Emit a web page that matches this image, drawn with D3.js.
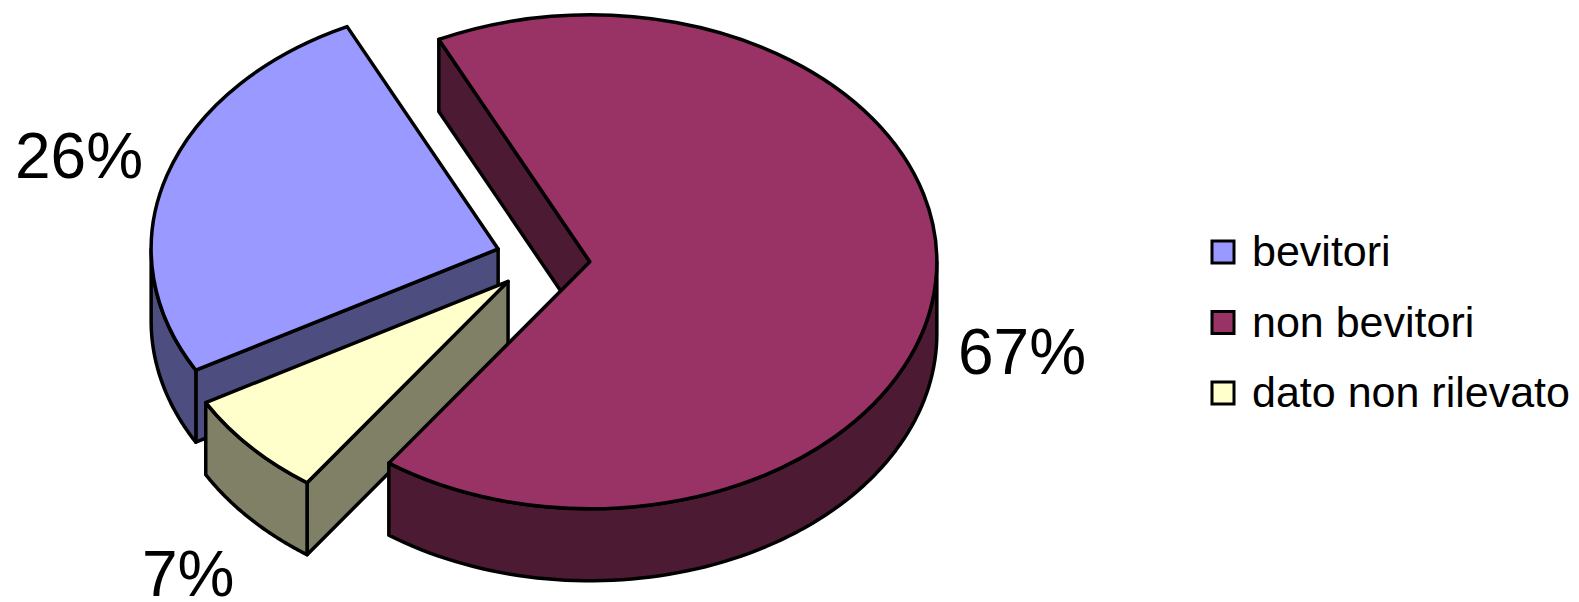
<!DOCTYPE html>
<html>
<head>
<meta charset="utf-8">
<script src="https://cdn.jsdelivr.net/npm/d3@7"></script>
<style>
  html, body { margin: 0; padding: 0; background: #fff; }
  #chart { width: 1579px; height: 602px; }
  text { font-family: "Liberation Sans", Arial, sans-serif; fill: #000; }
</style>
</head>
<body>
<div id="chart"></div>
<script>
// 3D exploded pie: drinkers share
const categories = ['bevitori', 'non bevitori', 'dato non rilevato'];
const values = [26, 67, 7];
const valueLabels = ['26%', '67%', '7%'];
const topColors = ['#9999FF', '#993366', '#FFFFCC'];
const sideColors = ['#4D4D80', '#4D1A33', '#808066'];

function drawPie() {
  const W = 1579, H = 602;
  const cx = 543, cy = 259;        // centre of the un-exploded pie
  const R = 347, k = 247 / 347;    // ellipse radius and tilt ratio
  const depth = 72, explode = 47;
  const startDeg = 240.6;
  const rad = (d) => (d * Math.PI) / 180;

  const svg = d3
    .select('#chart')
    .append('svg')
    .attr('width', W)
    .attr('height', H);

  const pie = d3
    .pie()
    .sort(null)
    .value((d) => d)
    .startAngle(rad(startDeg))
    .endAngle(rad(startDeg + 360));
  const arcs = pie(values);

  // plan coordinates (unit circle) -> screen offsets
  const sx = d3.scaleLinear().domain([-1, 1]).range([-R, R]);
  const sy = d3.scaleLinear().domain([-1, 1]).range([-R * k, R * k]);

  const apex = (a) => {
    const m = (a.startAngle + a.endAngle) / 2;
    return [cx + explode * Math.sin(m), cy - explode * Math.cos(m) * k];
  };
  const rim = (p, t, dz = 0) => [p[0] + sx(Math.sin(t)), p[1] + sy(-Math.cos(t)) + dz];
  const line = d3.line();
  const closed = (pts) => line(pts) + 'Z';

  const style = (sel) =>
    sel
      .attr('stroke', '#000')
      .attr('stroke-width', 3.5)
      .attr('stroke-linejoin', 'round');

  const radialLayer = svg.append('g');
  const outerLayer = svg.append('g');
  const topLayer = svg.append('g');

  arcs.forEach((a, i) => {
    const p = apex(a);

    // radial walls that face the viewer
    [
      [a.startAngle, Math.sin(a.startAngle) < 0],
      [a.endAngle, Math.sin(a.endAngle) > 0]
    ].forEach(([t, vis]) => {
      if (!vis) return;
      const r = rim(p, t);
      const pts = [p, r, [r[0], r[1] + depth], [p[0], p[1] + depth]];
      radialLayer.append('path').attr('d', closed(pts)).attr('fill', sideColors[i]).call(style);
    });

    // outer curved wall, front half only
    for (let n = -1; n <= 2; n++) {
      const lo = Math.max(a.startAngle, Math.PI / 2 + 2 * Math.PI * n);
      const hi = Math.min(a.endAngle, (3 * Math.PI) / 2 + 2 * Math.PI * n);
      if (hi <= lo) continue;
      const steps = 80;
      const topPts = d3.range(steps + 1).map((j) => rim(p, lo + ((hi - lo) * j) / steps));
      const botPts = topPts.map((q) => [q[0], q[1] + depth]).reverse();
      outerLayer
        .append('path')
        .attr('d', closed(topPts.concat(botPts)))
        .attr('fill', sideColors[i])
        .call(style);
    }

    // top face
    const arcGen = d3.arc().innerRadius(0).outerRadius(R);
    topLayer
      .append('path')
      .attr('d', arcGen(a))
      .attr('transform', `translate(${p[0]},${p[1]}) scale(1,${k})`)
      .attr('vector-effect', 'non-scaling-stroke')
      .attr('fill', topColors[i])
      .call(style);
  });

  // percentage labels
  const labelPos = [[15, 178], [958, 374], [142, 596]];
  svg
    .selectAll('text.pct')
    .data(valueLabels)
    .enter()
    .append('text')
    .attr('class', 'pct')
    .attr('x', (_d, i) => labelPos[i][0])
    .attr('y', (_d, i) => labelPos[i][1])
    .attr('font-size', '64px')
    .text((d) => d);

  // legend
  const legend = svg.append('g').attr('transform', 'translate(1212,241)');
  const rows = legend
    .selectAll('g')
    .data(categories)
    .enter()
    .append('g')
    .attr('transform', (_d, i) => `translate(0,${i * 70.5})`);
  rows
    .append('rect')
    .attr('width', 22)
    .attr('height', 22)
    .attr('fill', (_d, i) => topColors[i])
    .attr('stroke', '#000')
    .attr('stroke-width', 3);
  rows
    .append('text')
    .attr('x', 40)
    .attr('y', 25)
    .attr('font-size', '43px')
    .text((d) => d);
}

document.addEventListener('DOMContentLoaded', drawPie);
</script>
</body>
</html>
